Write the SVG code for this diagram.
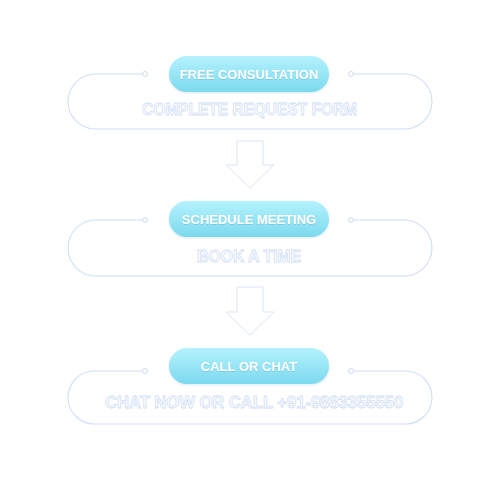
<svg xmlns="http://www.w3.org/2000/svg" width="500" height="500" viewBox="0 0 500 500">
<defs>
<linearGradient id="pillGrad" x1="0" y1="0" x2="0" y2="1">
<stop offset="0" stop-color="#b4f2fd"/>
<stop offset="1" stop-color="#7cd9ee"/>
</linearGradient>
<filter id="soft" x="-20%" y="-30%" width="140%" height="160%">
<feDropShadow dx="0" dy="1" stdDeviation="1.2" flood-color="#7fb8d8" flood-opacity="0.3"/>
</filter>
<filter id="txtShadow" x="-10%" y="-30%" width="120%" height="160%">
<feDropShadow dx="0" dy="0.6" stdDeviation="0.6" flood-color="#3a8aa8" flood-opacity="0.45"/>
</filter>
</defs>
<style>
.frame{fill:none;stroke:#d2def3;stroke-width:1.1}
.dot{fill:#ffffff;stroke:#cddaf2;stroke-width:1}
.pill{fill:url(#pillGrad)}
.pillText{font-family:"Liberation Sans",Arial,sans-serif;font-weight:bold;font-size:13px;fill:#ffffff;text-anchor:middle}
.sub{font-family:"Liberation Sans",Arial,sans-serif;font-weight:bold;font-size:16px;fill:#ffffff;stroke:#d0def4;stroke-width:0.8;text-anchor:middle}
.arrow{fill:#ffffff;stroke:#dbe5f5;stroke-width:1;stroke-linejoin:miter}
</style>
<rect width="500" height="500" fill="#ffffff"/>

<g id="connectors">
<path class="arrow" d="M237,141 H263 V165 H274 L250,188 L226,165 H237 Z"/>
<path class="arrow" d="M237,287 H263 V312 H274 L250,335 L226,312 H237 Z"/>
</g>

<g id="node1">
<path class="frame" d="M145,74 H95.5 A27.5,27.5 0 0 0 95.5,129 H404.5 A27.5,27.5 0 0 0 404.5,74 H351"/>
<circle class="dot" cx="145" cy="74" r="2.5"/>
<circle class="dot" cx="351" cy="74" r="2.5"/>
<rect class="pill" x="169" y="56" width="160" height="36" rx="18" filter="url(#soft)"/>
<text class="pillText" x="249" y="78.6" filter="url(#txtShadow)">FREE CONSULTATION</text>
<text class="sub" x="249.5" y="114.7" textLength="215" lengthAdjust="spacingAndGlyphs">COMPLETE REQUEST FORM</text>
</g>

<g id="node2">
<path class="frame" d="M145,220 H96 A28,28 0 0 0 96,276 H404 A28,28 0 0 0 404,220 H351"/>
<circle class="dot" cx="145" cy="220" r="2.5"/>
<circle class="dot" cx="351" cy="220" r="2.5"/>
<rect class="pill" x="169" y="201" width="160" height="36" rx="18" filter="url(#soft)"/>
<text class="pillText" x="249" y="223.6" filter="url(#txtShadow)">SCHEDULE MEETING</text>
<text class="sub" x="249" y="261.7" textLength="104" lengthAdjust="spacingAndGlyphs">BOOK A TIME</text>
</g>

<g id="node3">
<path class="frame" d="M145,371 H94.5 A26.5,26.5 0 0 0 94.5,424 H405.5 A26.5,26.5 0 0 0 405.5,371 H351"/>
<circle class="dot" cx="145" cy="371" r="2.5"/>
<circle class="dot" cx="351" cy="371" r="2.5"/>
<rect class="pill" x="169" y="348" width="160" height="36" rx="18" filter="url(#soft)"/>
<text class="pillText" x="249" y="370.6" filter="url(#txtShadow)">CALL OR CHAT</text>
<text class="sub" x="254" y="407.7" textLength="298" lengthAdjust="spacingAndGlyphs">CHAT NOW OR CALL +91-9883355550</text>
</g>
</svg>
